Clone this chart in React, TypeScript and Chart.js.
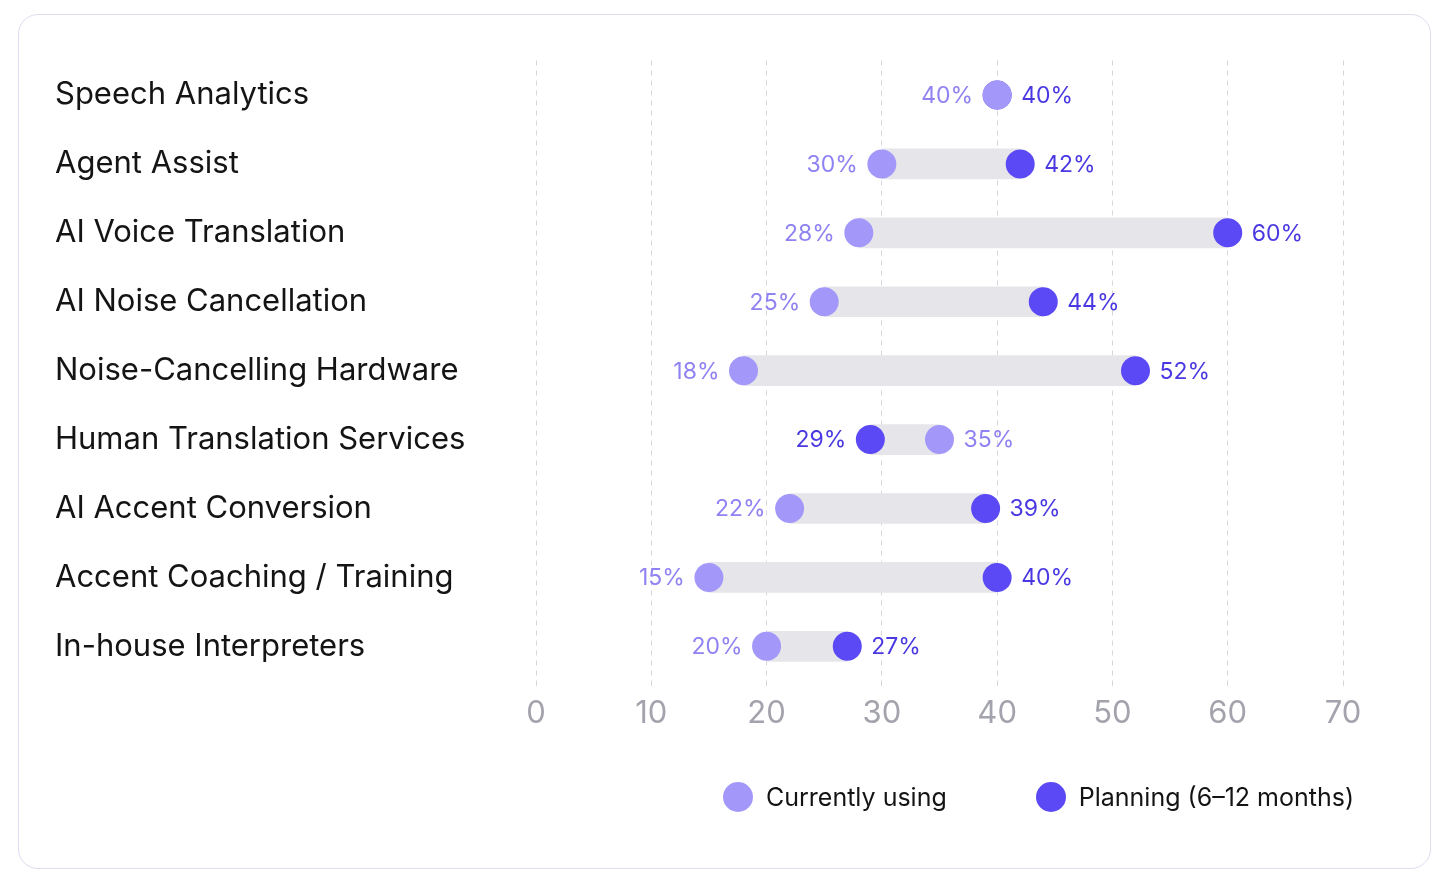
import React, { useEffect, useRef } from "react";
import { Chart, registerables } from "chart.js";

Chart.register(...registerables);

const categories = [
  "Speech Analytics",
  "Agent Assist",
  "AI Voice Translation",
  "AI Noise Cancellation",
  "Noise-Cancelling Hardware",
  "Human Translation Services",
  "AI Accent Conversion",
  "Accent Coaching / Training",
  "In-house Interpreters",
];
const currentValues = [40, 30, 28, 25, 18, 35, 22, 15, 20];
const planningValues = [40, 42, 60, 44, 52, 29, 39, 40, 27];
const xTicks = [0, 10, 20, 30, 40, 50, 60, 70];
const seriesNames = ["Currently using", "Planning (6–12 months)"];

const CURRENT_COLOR = "#a398f9";
const PLAN_COLOR = "#5a49f5";
const CURRENT_TEXT = "#8f82f2";
const PLAN_TEXT = "#4a39e2";
const RANGE_COLOR = "#e6e6ea";
const FONT = "Inter, 'Noto Sans', sans-serif";

const valueLabels = {
  id: "valueLabels",
  afterDatasetsDraw(chart: any) {
    const ctx = chart.ctx;
    const curMeta = chart.getDatasetMeta(1);
    const planMeta = chart.getDatasetMeta(2);
    ctx.save();
    ctx.font = `23px ${FONT}`;
    ctx.textBaseline = "middle";
    const offset = 24;
    const draw = (el: any, v: number, color: string, left: boolean) => {
      if (!el) return;
      ctx.fillStyle = color;
      ctx.textAlign = left ? "right" : "left";
      ctx.fillText(`${v}%`, el.x + (left ? -offset : offset), el.y + 1);
    };
    categories.forEach((_, i) => {
      const cv = currentValues[i];
      const pv = planningValues[i];
      const curLeft = cv <= pv;
      draw(curMeta.data[i], cv, CURRENT_TEXT, curLeft);
      draw(planMeta.data[i], pv, PLAN_TEXT, !curLeft);
    });
    ctx.restore();
  },
};

export default function App() {
  const canvasRef = useRef<HTMLCanvasElement | null>(null);

  useEffect(() => {
    if (!canvasRef.current) return;
    const chart = new Chart(canvasRef.current, {
      type: "bar",
      data: {
        labels: categories,
        datasets: [
          {
            type: "bar",
            label: "range",
            data: categories.map((_, i) => [
              Math.min(currentValues[i], planningValues[i]),
              Math.max(currentValues[i], planningValues[i]),
            ]) as any,
            backgroundColor: RANGE_COLOR,
            barThickness: 30,
            borderSkipped: false,
            borderWidth: 0,
            order: 3,
          } as any,
          {
            type: "line",
            label: seriesNames[0],
            data: currentValues,
            showLine: false,
            pointRadius: 14.5,
            pointHoverRadius: 14.5,
            pointBorderWidth: 0,
            pointBackgroundColor: CURRENT_COLOR,
            borderColor: CURRENT_COLOR,
            backgroundColor: CURRENT_COLOR,
            order: 1,
          } as any,
          {
            type: "line",
            label: seriesNames[1],
            data: planningValues,
            showLine: false,
            pointRadius: 14.5,
            pointHoverRadius: 14.5,
            pointBorderWidth: 0,
            pointBackgroundColor: PLAN_COLOR,
            borderColor: PLAN_COLOR,
            backgroundColor: PLAN_COLOR,
            order: 2,
          } as any,
        ],
      },
      options: {
        indexAxis: "y",
        animation: false,
        responsive: true,
        maintainAspectRatio: false,
        layout: { padding: { left: 36, right: 87, top: 45.5, bottom: 128 } },
        plugins: {
          legend: { display: false },
          tooltip: { enabled: false },
        },
        scales: {
          x: {
            type: "linear",
            min: 0,
            max: 70,
            afterBuildTicks: (scale: any) => {
              scale.ticks = xTicks.map((v) => ({ value: v }));
            },
            border: { display: false, dash: [5, 5] },
            grid: {
              color: "#d6d6dc",
              lineWidth: 1,
              tickLength: 6,
              drawTicks: true,
              tickColor: "#d6d6dc",
              tickBorderDash: [5, 5],
            },
            ticks: {
              color: "#a3a3ad",
              font: { family: FONT, size: 31 },
              padding: 8,
            },
          } as any,
          y: {
            type: "category",
            border: { display: false },
            grid: { display: false, drawTicks: false },
            afterFit: (scale: any) => {
              scale.width = 481;
            },
            ticks: {
              crossAlign: "far",
              color: "#141414",
              font: { family: FONT, size: 31 },
              padding: 0,
            },
          } as any,
        },
      } as any,
      plugins: [valueLabels],
    });
    return () => chart.destroy();
  }, []);

  const legendItem = (name: string, color: string, gapAfter: number) => (
    <div style={{ display: "flex", alignItems: "center", marginRight: gapAfter }}>
      <div
        style={{
          width: 30,
          height: 30,
          borderRadius: "50%",
          background: color,
          marginRight: 13,
        }}
      />
      <span style={{ fontFamily: FONT, fontSize: 25, color: "#141414", whiteSpace: "nowrap" }}>
        {name}
      </span>
    </div>
  );

  return (
    <div style={{ padding: "6px 10px" }}>
      <div
        style={{
          position: "relative",
          width: 1413,
          height: 855,
          boxSizing: "border-box",
          border: "1px solid #dedcf0",
          borderRadius: 20,
          background: "#ffffff",
        }}
      >
        <div style={{ position: "absolute", left: 0, top: 0, right: 0, bottom: 0 }}>
          <canvas ref={canvasRef} />
        </div>
        <div
          style={{
            position: "absolute",
            left: 704,
            top: 767,
            height: 30,
            display: "flex",
            alignItems: "center",
          }}
        >
          {legendItem(seriesNames[0], CURRENT_COLOR, 89)}
          {legendItem(seriesNames[1], PLAN_COLOR, 0)}
        </div>
      </div>
    </div>
  );
}
